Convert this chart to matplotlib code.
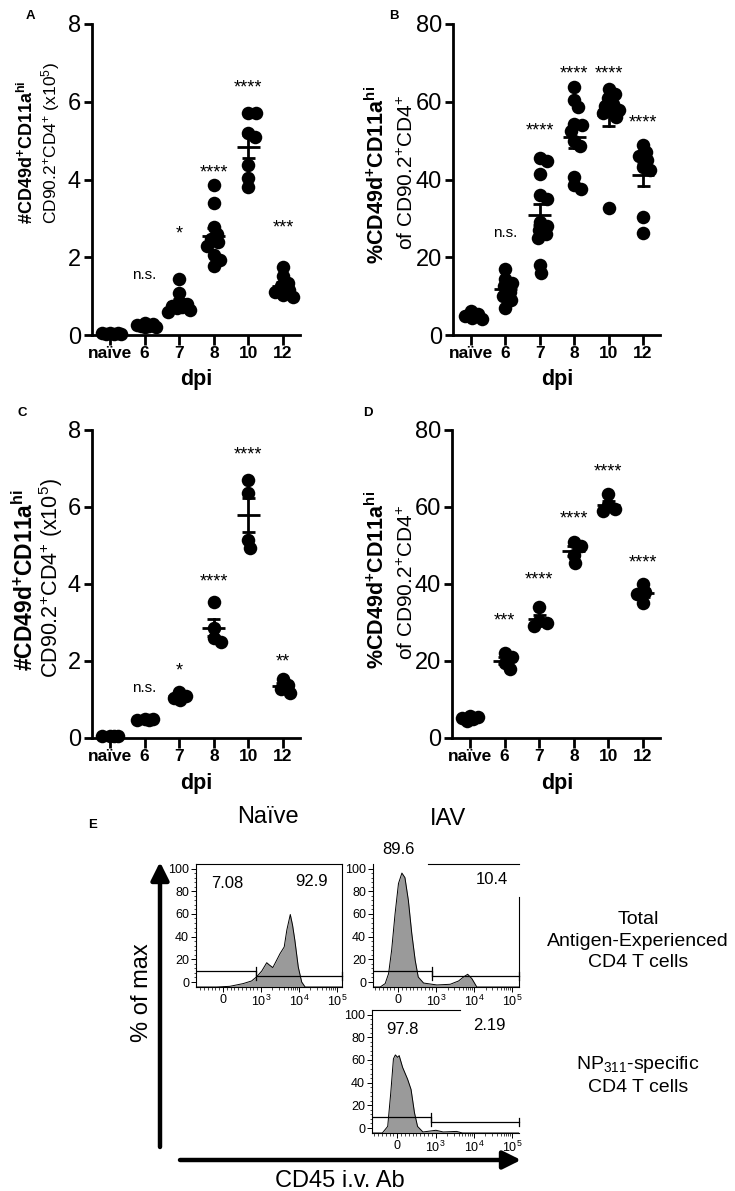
import numpy as np
import matplotlib
matplotlib.use('Agg')
import matplotlib.pyplot as plt
from matplotlib.transforms import ScaledTranslation
from matplotlib.ticker import FixedLocator

plt.rcParams['font.family'] = ['Liberation Sans', 'DejaVu Sans']
plt.rcParams['mathtext.fontset'] = 'custom'
plt.rcParams['mathtext.rm'] = 'Liberation Sans'
plt.rcParams['mathtext.bf'] = 'Liberation Sans:bold'
plt.rcParams['mathtext.it'] = 'Liberation Sans:italic'
plt.rcParams['mathtext.sf'] = 'Liberation Sans'

W, H = 735, 1191

# ---------------- data ----------------
categories = ['naïve', '6', '7', '8', '10', '12']

a_values = [
    [0.03, 0.05, 0.02, 0.04, 0.03, 0.05],
    [0.20, 0.25, 0.22, 0.28, 0.20, 0.24, 0.30],
    [1.45, 1.08, 0.80, 0.75, 0.70, 0.65, 0.60, 0.85, 0.72],
    [3.87, 3.40, 2.78, 2.60, 2.48, 2.30, 2.05, 1.92, 1.78, 2.40],
    [5.70, 5.70, 5.20, 5.10, 4.37, 4.05, 3.81],
    [1.75, 1.52, 1.35, 1.15, 1.10, 1.02, 0.98, 1.25],
]
b_values = [
    [5.3, 4.0, 4.4, 4.8, 6.2],
    [17.0, 14.5, 13.5, 12.5, 11.0, 10.0, 9.0, 7.0],
    [45.5, 44.8, 41.5, 36.0, 35.0, 29.0, 28.0, 27.0, 26.0, 25.0, 18.0, 16.0],
    [63.9, 60.5, 58.7, 54.0, 54.3, 50.0, 48.5, 40.7, 38.6, 37.5, 52.5],
    [63.4, 62.0, 61.0, 59.5, 59.0, 58.0, 57.5, 57.0, 56.0, 32.6],
    [48.9, 47.0, 46.0, 45.0, 43.3, 42.5, 30.4, 26.2],
]
c_values = [
    [0.05, 0.06, 0.04, 0.05],
    [0.48, 0.50, 0.47, 0.49],
    [1.05, 1.00, 1.10, 1.20],
    [3.52, 2.85, 2.60, 2.50],
    [6.70, 6.37, 5.13, 4.93],
    [1.38, 1.54, 1.18, 1.28],
]
d_values = [
    [5.0, 5.5, 4.5, 5.8, 5.2],
    [21.0, 22.0, 18.0, 19.5],
    [34.0, 30.5, 29.0, 30.0],
    [51.0, 50.0, 47.5, 45.5],
    [63.5, 60.5, 59.5, 59.0],
    [40.0, 37.5, 38.0, 35.0],
]

a_sig = ['', 'n.s.', '*', '****', '****', '***']
a_sig_y = [0, 1.54, 2.75, 4.33, 6.50, 2.90]
b_sig = ['', 'n.s.', '****', '****', '****', '****']
b_sig_y = [0, 26.2, 54.0, 68.6, 68.6, 56.2]
c_sig = ['', 'n.s.', '*', '****', '****', '**']
c_sig_y = [0, 1.30, 1.90, 4.20, 7.50, 2.14]
d_sig = ['', '***', '****', '****', '****', '****']
d_sig_y = [0, 32.0, 42.6, 58.5, 70.7, 47.1]

# flow histograms (x in display decades: 0 -> 0, 1 -> 10^3, 2 -> 10^4, 3 -> 10^5)
naive_u = [-0.71, -0.17, 0.18, 0.53, 0.75, 0.88, 1.02, 1.15, 1.22, 1.31, 1.41,
           1.50, 1.61, 1.68, 1.77, 1.83, 1.89, 1.98, 2.07, 2.16, 3.13]
naive_y = [-4.4, -4.4, -3.8, -1.4, 0.9, 4.4, 9.7, 17.0, 15.0, 12.7, 19.1,
           25.0, 30.9, 46.0, 59.5, 50.0, 36.8, 13.2, 0.0, -4.4, -4.4]
iav_total_u = [-0.66, -0.47, -0.34, -0.25, -0.17, -0.08, 0.01, 0.10, 0.18, 0.27,
               0.36, 0.45, 0.53, 0.67, 1.02, 1.37, 1.59, 1.72, 1.83, 1.94,
               2.07, 2.20, 3.18]
iav_total_y = [-4.4, -4.4, -1.4, 7.4, 28.0, 60.0, 86.8, 96.0, 92.0, 72.0,
               42.7, 19.1, 4.4, -0.9, -2.6, -2.0, 0.9, 4.4, 6.8, 3.0,
               -4.4, -4.4, -4.4]
iav_np_u = [-0.66, -0.39, -0.25, -0.17, -0.10, -0.05, 0.01, 0.05, 0.14, 0.27,
            0.36, 0.45, 0.53, 0.67, 1.01, 1.20, 1.55, 1.70, 3.18]
iav_np_y = [-4.4, -4.4, 1.4, 31.0, 61.0, 64.4, 62.3, 63.8, 53.4, 43.0,
            34.0, 13.4, 1.4, -3.5, -2.0, -3.5, -3.0, -4.4, -4.4]

naive_pct = ['7.08', '92.9']
iav_total_pct = ['89.6', '10.4']
iav_np_pct = ['97.8', '2.19']
gate_split = 0.88

# ---------------- figure ----------------
fig = plt.figure(figsize=(W / 100, H / 100), dpi=100)


def px_axes(l, t, r, b):
    return fig.add_axes([l / W, 1 - b / H, (r - l) / W, (b - t) / H])


def swarm(ypx, mind, maxoff):
    """simple deterministic beeswarm: returns x offsets in pixels"""
    order = np.argsort(-ypx)
    placed = []
    offs = np.zeros(len(ypx))
    cands = [0.0]
    k = 1
    while k * 0.5 <= maxoff:
        cands += [k * 0.5, -k * 0.5]
        k += 1
    for j in order:
        best, bestd = 0.0, -1.0
        for c in cands:
            dmin = min([np.hypot(c - ox, ypx[j] - oy) for ox, oy in placed] + [1e9])
            if dmin >= mind:
                best = c
                break
            if dmin > bestd:
                best, bestd = c, dmin
        placed.append((best, ypx[j]))
        offs[j] = best
    return offs


def scatter_panel(box, values, ymax, yticks, sig, sig_y, ax_fs=17):
    ax = px_axes(*box)
    ax.set_xlim(-0.52, 5.49)
    ax.set_ylim(0, ymax)
    for s in ['top', 'right']:
        ax.spines[s].set_visible(False)
    for s in ['left', 'bottom']:
        ax.spines[s].set_linewidth(2.0)
    ax.set_yticks(yticks)
    ax.set_xticks(range(len(categories)))
    ax.set_xticklabels(categories, fontweight='bold', fontsize=12.5)
    ax.tick_params(axis='y', labelsize=ax_fs, width=2.0, length=6, pad=2)
    ax.tick_params(axis='x', width=2.0, length=7, pad=1)
    wpx = box[2] - box[0]
    hpx = box[3] - box[1]
    ppx_x = wpx / (5.49 + 0.52)
    ppx_y = hpx / ymax
    diam = 13.0
    for i, vals in enumerate(values):
        v = np.asarray(vals, float)
        offs = swarm(v * ppx_y, diam * 0.6, 11.0)
        ax.scatter(i + offs / ppx_x, v, s=95, color='black', lw=0, zorder=3, clip_on=False)
        m = v.mean()
        sem = v.std(ddof=1) / np.sqrt(len(v))
        ax.plot([i - 0.33, i + 0.33], [m, m], color='black', lw=2.0, zorder=4, solid_capstyle='butt')
        ax.plot([i, i], [m - sem, m + sem], color='black', lw=2.0, zorder=4)
        for yy in (m - sem, m + sem):
            ax.plot([i - 0.19, i + 0.19], [yy, yy], color='black', lw=2.0, zorder=4, solid_capstyle='butt')
        if sig[i]:
            fs = 11 if sig[i] == 'n.s.' else 13
            k = 0.26 if sig[i] == 'n.s.' else 0.58
            tr = ax.transData + ScaledTranslation(0, -k * fs / 72, fig.dpi_scale_trans)
            ax.text(i, sig_y[i], sig[i], ha='center', va='baseline', fontsize=fs,
                    transform=tr, clip_on=False, zorder=5)
    return ax


axA = scatter_panel((92, 24, 300, 335), a_values, 8, [0, 2, 4, 6, 8], a_sig, a_sig_y)
axB = scatter_panel((453, 24, 660, 335), b_values, 80, [0, 20, 40, 60, 80], b_sig, b_sig_y)
axC = scatter_panel((92, 430, 300, 738), c_values, 8, [0, 2, 4, 6, 8], c_sig, c_sig_y)
axD = scatter_panel((452, 430, 660, 738), d_values, 80, [0, 20, 40, 60, 80], d_sig, d_sig_y)


def hist_panel(box, xlim, u, y):
    ax = px_axes(*box)
    ax.set_xlim(*xlim)
    ax.set_ylim(-4.4, 104)
    ax.fill_between(u, y, -4.4, color='#9a9a9a', lw=0, zorder=1)
    ax.plot(u, y, color='black', lw=0.7, zorder=2)
    for s in ax.spines.values():
        s.set_linewidth(0.8)
    ax.set_yticks([0, 20, 40, 60, 80, 100])
    ax.yaxis.set_minor_locator(FixedLocator(np.arange(0, 101, 4)))
    ax.set_xticks([0, 1, 2, 3])
    ax.set_xticklabels(['0', r'$10^3$', r'$10^4$', r'$10^5$'])
    minor = [k / 10 for k in range(-6, 10) if k != 0]
    for dec in (3, 4):
        for m in range(2, 10):
            minor.append(np.log10(m * 10 ** dec) - 2)
    ax.xaxis.set_minor_locator(FixedLocator(minor))
    ax.tick_params(which='major', labelsize=9, length=3.5, width=0.7, pad=1.5)
    ax.tick_params(which='minor', length=1.8, width=0.5)
    x0, x1 = xlim
    ax.plot([x0, gate_split], [10, 10], color='black', lw=0.9, zorder=3)
    ax.plot([gate_split, gate_split], [6.6, 13.4], color='black', lw=0.9, zorder=3)
    ax.plot([gate_split, x1], [5, 5], color='black', lw=0.9, zorder=3, clip_on=False)
    for xx in (gate_split, x1):
        ax.plot([xx, xx], [1.6, 8.4], color='black', lw=0.9, zorder=3, clip_on=False)
    return ax


hN = hist_panel((196, 864, 342, 987), (-0.71, 3.13), naive_u, naive_y)
hT = hist_panel((373, 864, 519, 987), (-0.66, 3.18), iav_total_u, iav_total_y)
hP = hist_panel((372, 1010, 519, 1133), (-0.66, 3.18), iav_np_u, iav_np_y)
hT.spines['top'].set_bounds(0.79, 3.18)
hT.spines['right'].set_bounds(-4.4, 75)
hP.spines['top'].set_bounds(-0.66, 1.63)
hP.spines['right'].set_visible(False)

# ---------------- overlay for labels (pixel coordinates) ----------------
ov = fig.add_axes([0, 0, 1, 1])
ov.set_xlim(0, W)
ov.set_ylim(H, 0)
ov.axis('off')


def t(x, y, s, **kw):
    kw.setdefault('ha', 'center')
    kw.setdefault('va', 'center')
    ov.text(x, y, s, **kw)


# panel letters
for (x, y, s) in [(30, 16, 'A'), (394, 16, 'B'), (22, 413, 'C'), (368, 413, 'D'), (93, 825, 'E')]:
    t(x, y, s, fontsize=9.5, fontweight='bold')

# x labels
for (x, y) in [(196, 380), (557, 380), (196, 784), (557, 784)]:
    t(x, y, 'dpi', fontsize=15.5, fontweight='bold')

# y labels
count1 = r'#CD49d$^{\mathbf{+}}$CD11a$^{\mathbf{hi}}$'
count2 = r'CD90.2$^{+}$CD4$^{+}$ (x10$^{5}$)'
pct1 = r'%CD49d$^{\mathbf{+}}$CD11a$^{\mathbf{hi}}$'
pct2 = r'of CD90.2$^{+}$CD4$^{+}$'
t(27, 152, count1, rotation=90, fontsize=13, fontweight='bold')
t(51, 143, count2, rotation=90, fontsize=12.5)
t(377, 175, pct1, rotation=90, fontsize=15.5, fontweight='bold')
t(407, 172, pct2, rotation=90, fontsize=15)
t(25, 580, count1, rotation=90, fontsize=16.5, fontweight='bold')
t(51, 578, count2, rotation=90, fontsize=15.5)
t(377, 580, pct1, rotation=90, fontsize=15.5, fontweight='bold')
t(407, 582, pct2, rotation=90, fontsize=15)

# panel E labels
t(268, 817, 'Naïve', fontsize=17)
t(448, 819, 'IAV', fontsize=17)
t(227, 883, naive_pct[0], fontsize=12)
t(312, 881, naive_pct[1], fontsize=12)
t(398, 850, iav_total_pct[0], fontsize=12)
t(492, 880, iav_total_pct[1], fontsize=12)
t(402, 1029, iav_np_pct[0], fontsize=12)
t(489, 1025, iav_np_pct[1], fontsize=12)
t(638, 941, 'Total\nAntigen-Experienced\nCD4 T cells', fontsize=14, linespacing=1.35)
t(638, 1075, 'NP$_{311}$-specific\nCD4 T cells', fontsize=14, linespacing=1.35)
t(142, 993, '% of max', rotation=90, fontsize=17)
t(340, 1181, 'CD45 i.v. Ab', fontsize=17)

ap = dict(arrowstyle='-|>,head_length=0.6,head_width=0.3', lw=3.2, color='black',
          shrinkA=0, shrinkB=0, mutation_scale=18)
ov.annotate('', xy=(160, 862), xytext=(160, 1147), arrowprops=ap)
ov.annotate('', xy=(521, 1160), xytext=(180, 1160), arrowprops=ap)

fig.savefig('out.png', dpi=100)
